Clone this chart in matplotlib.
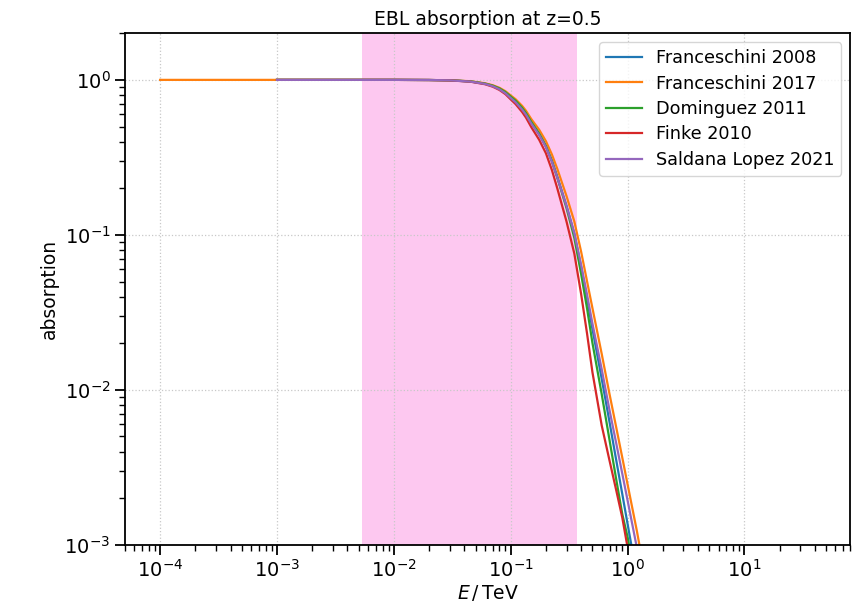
import matplotlib
matplotlib.use("Agg")
import matplotlib.pyplot as plt
import numpy as np

# energies in TeV (first point only used by Franceschini 2017)
energy = [1e-4, 1e-3, 0.01, 0.02, 0.03, 0.045, 0.06, 0.07, 0.08, 0.09, 0.1, 0.11,
          0.125, 0.135, 0.15, 0.175, 0.2, 0.225, 0.25, 0.3, 0.35, 0.4, 0.45, 0.5,
          0.6, 0.7, 0.8, 0.9, 1.0, 1.2, 1.4]

nan = np.nan
franceschini08 = [nan, 1.0, 1.0, 0.998, 0.9935, 0.977, 0.945, 0.915, 0.876, 0.829, 0.774,
                  0.728, 0.654, 0.605, 0.530, 0.448, 0.373, 0.300, 0.237, 0.154, 0.102,
                  0.0624, 0.0387, 0.0247, 0.0118, 0.0062, 0.0035, 0.00213, 0.00136,
                  0.00063, 0.0003]
franceschini17 = [1.0, 1.0, 1.0, 0.998, 0.994, 0.980, 0.951, 0.924, 0.889, 0.845, 0.793,
                  0.750, 0.680, 0.632, 0.558, 0.477, 0.402, 0.330, 0.267, 0.178, 0.122,
                  0.078, 0.050, 0.0337, 0.0171, 0.0094, 0.0057, 0.00366, 0.00245,
                  0.00123, 0.00065]
dominguez11 = [nan, 1.0, 1.0, 0.998, 0.9938, 0.978, 0.947, 0.918, 0.881, 0.834, 0.780,
               0.734, 0.661, 0.611, 0.535, 0.450, 0.373, 0.299, 0.235, 0.149, 0.0958,
               0.056, 0.0334, 0.0201, 0.0094, 0.00475, 0.00263, 0.00158, 0.00112,
               0.00052, 0.00025]
finke10 = [nan, 1.0, 1.0, 0.998, 0.9925, 0.974, 0.938, 0.904, 0.861, 0.809, 0.748,
           0.698, 0.621, 0.571, 0.495, 0.411, 0.336, 0.262, 0.200, 0.122, 0.0757,
           0.0416, 0.023, 0.0130, 0.0059, 0.0035, 0.00224, 0.0015, 0.00096,
           0.00045, 0.0002]
saldana21 = [nan, 1.0, 1.0, 0.998, 0.993, 0.975, 0.942, 0.910, 0.869, 0.820, 0.763,
             0.717, 0.644, 0.596, 0.522, 0.441, 0.368, 0.296, 0.235, 0.153, 0.102,
             0.064, 0.041, 0.0268, 0.0136, 0.0074, 0.0045, 0.00288, 0.00193,
             0.00096, 0.0005]

models = ["Franceschini 2008", "Franceschini 2017", "Dominguez 2011",
          "Finke 2010", "Saldana Lopez 2021"]
values = [franceschini08, franceschini17, dominguez11, finke10, saldana21]

band = [5.3e-3, 0.367]

plt.rcParams['axes.linewidth'] = 1.3

fig = plt.figure(figsize=(8.56, 6.04), dpi=100)
ax = fig.add_axes([0.146, 0.098, 0.847, 0.847])

ax.axvspan(band[0], band[1], color='#fdc8f0', lw=0)
for name, v in zip(models, values):
    ax.plot(energy, v, label=name, lw=1.6)

ax.set_xscale('log')
ax.set_yscale('log')
ax.set_xlim(5e-5, 80)
ax.set_ylim(1e-3, 2)
ax.grid(True, ls=':', color='#c8c8c8', lw=0.9)
ax.tick_params(which='major', labelsize=14, length=7, width=1.3)
ax.tick_params(which='minor', length=4, width=1.0)
ax.set_title("EBL absorption at z=0.5", fontsize=13.5)
ax.set_xlabel(r"$E\,/\,\mathrm{TeV}$", fontsize=13.5, labelpad=1)
ax.set_ylabel("absorption", fontsize=13.5)
ax.legend(loc='upper right', fontsize=12.7, labelspacing=0.42)

plt.savefig('out.png', dpi=100)
